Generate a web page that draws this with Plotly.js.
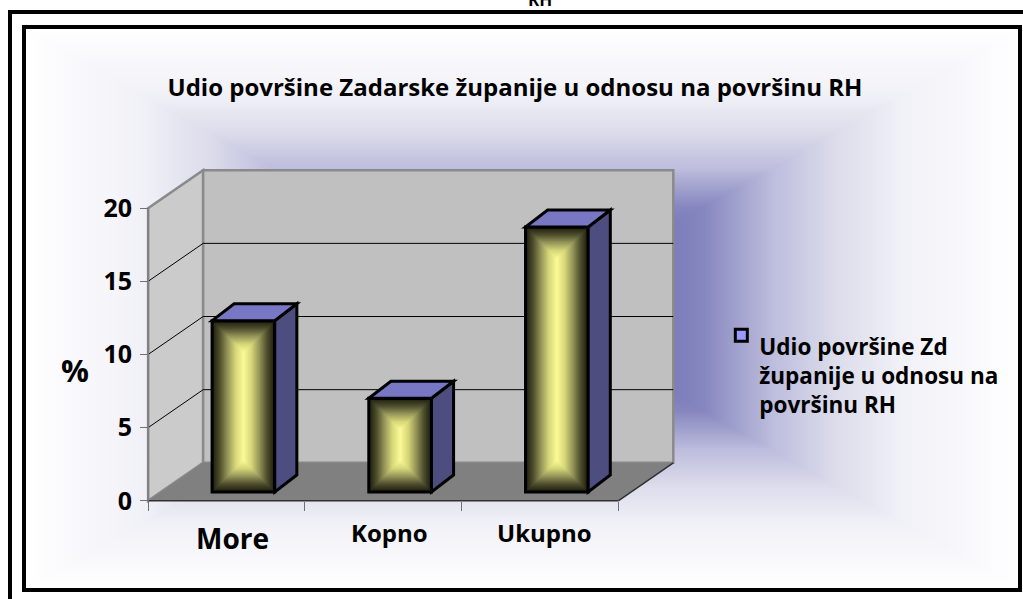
<!DOCTYPE html>
<html>
<head>
<meta charset="utf-8">
<script src="https://cdn.plot.ly/plotly-3.0.1.min.js"></script>
<style>
  html, body { margin: 0; padding: 0; width: 1023px; height: 599px; overflow: hidden; background: #ffffff; }
  #outer { position: absolute; left: 8px; top: 10px; width: 1100px; height: 700px; border-top: 4px solid #000; border-left: 4px solid #000; box-sizing: border-box; }
  #inner { position: absolute; left: 22px; top: 25px; width: 1000px; height: 567px; border: 4px solid #000; box-sizing: border-box; background-size: 100% 100%; }
  #plot { position: absolute; left: 0; top: 0; width: 1023px; height: 599px; }
</style>
</head>
<body>
<div id="outer"></div>
<div id="inner"></div>
<div id="plot"></div>
<script>
// ---- data ----
const categories = ['More', 'Kopno', 'Ukupno'];
const values = [11.7, 6.4, 18.1];
const seriesName = 'Udio površine Zd<br>županije u odnosu na<br>površinu RH';
const chartTitle = 'Udio površine Zadarske županije u odnosu na površinu RH';
const yTitle = '%';
const cutTitle = 'RH';
const yTicks = [0, 5, 10, 15, 20];

// ---- background (rectangular centre gradient) ----
(function () {
  const c = document.createElement('canvas');
  const w = 1000, h = 567;
  c.width = w; c.height = h;
  const ctx = c.getContext('2d');
  const img = ctx.createImageData(w, h);
  const stops = [[0, [82, 82, 160]], [0.36, [133, 133, 191]], [0.5, [188, 188, 221]],
                 [0.63, [220, 220, 235]], [0.76, [240, 240, 247]], [0.9, [249, 249, 252]], [1, [255, 255, 255]]];
  function col(t) {
    t = Math.min(1, Math.max(0, t));
    for (let i = 1; i < stops.length; i++) {
      if (t <= stops[i][0]) {
        const a = stops[i - 1], b = stops[i];
        const f = (t - a[0]) / (b[0] - a[0]);
        return [0, 1, 2].map(k => a[1][k] + (b[1][k] - a[1][k]) * f);
      }
    }
    return stops[stops.length - 1][1];
  }
  const cx = w / 2, cy = h / 2;
  for (let y = 0; y < h; y++) {
    for (let x = 0; x < w; x++) {
      const t = Math.max(Math.abs(x - cx) / cx, Math.abs(y - cy) / cy);
      const cc = col(t);
      const i = (y * w + x) * 4;
      img.data[i] = cc[0]; img.data[i + 1] = cc[1]; img.data[i + 2] = cc[2]; img.data[i + 3] = 255;
    }
  }
  ctx.putImageData(img, 0, 0);
  document.getElementById('inner').style.backgroundImage = 'url(' + c.toDataURL() + ')';
})();

// ---- geometry (pseudo-3D) ----
const PX_X = 156.67, PX_Y = 14.65;     // px per category / per unit
const X0_PX = 148, Y0_PX = 501;        // front-left-bottom corner in page px
const DX = 0.351, DY = 2.594;          // depth of the box (data units)
const BAR_SHIFT = 0.108, BAR_BASE = 0.61, BAR_W = 0.4;
const BDX = 0.141, BDY = 1.16;         // depth of bars
const XR = [-0.52, 2.5 + DX + 0.03];
const YR = [-0.15, 20 + DY + 0.15];
const W = (XR[1] - XR[0]) * PX_X;
const H = (YR[1] - YR[0]) * PX_Y;
const mL = X0_PX + (XR[0] + 0.5) * PX_X;
const mR = 1023 - mL - W;
const bottomPx = Y0_PX - YR[0] * PX_Y;
const mB = 599 - bottomPx;
const mT = bottomPx - H;
const paperX = px => (px - mL) / W;
const paperY = py => (bottomPx - py) / H;

const shapes = [];
const wallLine = { color: '#8a8a8a', width: 2.5 };
shapes.push({ type: 'path', layer: 'below', xref: 'x', yref: 'y',
  path: `M ${-0.5},0 L ${-0.5},20 L ${-0.5 + DX},${20 + DY} L ${-0.5 + DX},${DY} Z`,
  fillcolor: '#cbcbcb', line: wallLine });
shapes.push({ type: 'rect', layer: 'below', xref: 'x', yref: 'y',
  x0: -0.5 + DX, x1: 2.5 + DX, y0: DY, y1: 20 + DY, fillcolor: '#c0c0c0', line: wallLine });
shapes.push({ type: 'path', layer: 'below', xref: 'x', yref: 'y',
  path: `M ${-0.5},0 L 2.5,0 L ${2.5 + DX},${DY} L ${-0.5 + DX},${DY} Z`,
  fillcolor: '#808080', line: { width: 0 } });
yTicks.forEach(v => {
  if (v === 0 || v === 20) return;
  shapes.push({ type: 'line', layer: 'below', xref: 'x', yref: 'y',
    x0: -0.5 + DX, x1: 2.5 + DX, y0: v + DY, y1: v + DY, line: { color: '#000', width: 1 } });
  shapes.push({ type: 'line', layer: 'below', xref: 'x', yref: 'y',
    x0: -0.5, x1: -0.5 + DX, y0: v, y1: v + DY, line: { color: '#000', width: 1 } });
});
shapes.push({ type: 'line', layer: 'below', xref: 'x', yref: 'y',
  x0: -0.5, x1: 2.5, y0: 0, y1: 0, line: { color: '#303030', width: 1.5 } });
shapes.push({ type: 'line', layer: 'below', xref: 'x', yref: 'y',
  x0: 2.5, x1: 2.5 + DX, y0: 0, y1: DY, line: { color: '#303030', width: 1.5 } });
shapes.push({ type: 'line', layer: 'below', xref: 'x', yref: 'y',
  x0: -0.5, x1: -0.5, y0: 0, y1: 20, line: { color: '#808080', width: 2 } });

values.forEach((v, i) => {
  const x0 = i + BAR_SHIFT - BAR_W / 2, x1 = i + BAR_SHIFT + BAR_W / 2;
  const b = BAR_BASE, t = BAR_BASE + v;
  shapes.push({ type: 'path', layer: 'above', xref: 'x', yref: 'y',
    path: `M ${x1},${b} L ${x1},${t} L ${x1 + BDX},${t + BDY} L ${x1 + BDX},${b + BDY} Z`,
    fillcolor: '#4d4d80', line: { color: '#000', width: 3 } });
  shapes.push({ type: 'path', layer: 'above', xref: 'x', yref: 'y',
    path: `M ${x0},${t} L ${x1},${t} L ${x1 + BDX},${t + BDY} L ${x0 + BDX},${t + BDY} Z`,
    fillcolor: '#7777c4', line: { color: '#000', width: 3 } });
});

const FONT = 'Open Sans, Noto Sans, Liberation Sans, sans-serif';
const annotations = [
  { text: yTitle, xref: 'paper', yref: 'paper', x: paperX(75), y: paperY(370), showarrow: false,
    font: { family: FONT, size: 31, color: '#000', weight: 'bold' }, xanchor: 'center', yanchor: 'middle' },
  { text: cutTitle, xref: 'paper', yref: 'paper', x: paperX(540), y: paperY(-1), showarrow: false,
    font: { family: FONT, size: 17, color: '#000', weight: 'bold' }, xanchor: 'center', yanchor: 'middle' }
];
const labelPos = [[232, 538, 28], [389, 533, 24], [544, 533, 24]];
categories.forEach((c, i) => {
  annotations.push({ text: c, xref: 'paper', yref: 'paper', x: paperX(labelPos[i][0]), y: paperY(labelPos[i][1]),
    showarrow: false, xanchor: 'center', yanchor: 'middle',
    font: { family: FONT, size: labelPos[i][2], color: '#000', weight: 'bold' } });
});

const trace = {
  type: 'bar', x: categories, y: values, base: BAR_BASE, width: BAR_W,
  offset: BAR_SHIFT - BAR_W / 2, name: seriesName, showlegend: true,
  marker: { color: '#9999ff', line: { color: '#000', width: 3 } },
  hoverinfo: 'x+y'
};

const layout = {
  width: 1023, height: 599,
  margin: { l: mL, r: mR, t: mT, b: mB, pad: 0 },
  paper_bgcolor: 'rgba(0,0,0,0)', plot_bgcolor: 'rgba(0,0,0,0)',
  title: { text: chartTitle, xref: 'container', yref: 'container', x: 515 / 1023, y: 1 - 88 / 599,
    xanchor: 'center', yanchor: 'middle', font: { family: FONT, size: 24, color: '#000', weight: 'bold' } },
  xaxis: { type: 'category', range: XR, anchor: 'free', position: paperY(501),
    showticklabels: false, ticks: 'outside', tickson: 'boundaries', ticklen: 9, tickwidth: 1,
    tickcolor: '#707070', showgrid: false, zeroline: false, showline: false, fixedrange: true },
  yaxis: { range: YR, anchor: 'free', position: paperX(148), tick0: 0, dtick: 5,
    ticks: 'outside', ticklen: 8, tickwidth: 1, tickcolor: '#707070', ticklabelstandoff: 3,
    tickfont: { family: FONT, size: 25, color: '#000', weight: 'bold' },
    showgrid: false, zeroline: false, showline: false, fixedrange: true },
  showlegend: true,
  legend: { x: paperX(719), y: paperY(325), xanchor: 'left', yanchor: 'top', valign: 'top',
    bgcolor: 'rgba(0,0,0,0)', borderwidth: 0, itemwidth: 30,
    font: { family: FONT, size: 22.5, color: '#000', weight: 'bold' } },
  shapes: shapes,
  annotations: annotations
};

function barColor(d) {
  const st = [[0, [26, 26, 14]], [0.25, [78, 78, 46]], [0.5, [150, 150, 90]], [0.75, [215, 215, 122]], [1, [250, 250, 150]]];
  d = Math.min(1, Math.max(0, d));
  for (let i = 1; i < st.length; i++) {
    if (d <= st[i][0]) {
      const a = st[i - 1], b = st[i], f = (d - a[0]) / (b[0] - a[0]);
      return [0, 1, 2].map(k => Math.round(a[1][k] + (b[1][k] - a[1][k]) * f));
    }
  }
  return st[st.length - 1][1];
}

Plotly.newPlot('plot', [trace], layout, { displayModeBar: false, staticPlot: true }).then(gd => {
  const svg = gd.querySelector('.main-svg');
  const NS = 'http://www.w3.org/2000/svg';
  let defs = svg.querySelector('defs');
  if (!defs) { defs = document.createElementNS(NS, 'defs'); svg.insertBefore(defs, svg.firstChild); }
  gd.querySelectorAll('.barlayer .point path').forEach((p, idx) => {
    const bb = p.getBBox();
    const w = Math.max(1, Math.round(bb.width)), h = Math.max(1, Math.round(bb.height));
    const c = document.createElement('canvas');
    c.width = w; c.height = h;
    const ctx = c.getContext('2d');
    const img = ctx.createImageData(w, h);
    const half = w / 2;
    for (let y = 0; y < h; y++) {
      for (let x = 0; x < w; x++) {
        const inset = Math.min(x + 0.5, w - x - 0.5, y + 0.5, h - y - 0.5);
        const cc = barColor(inset / half);
        const i = (y * w + x) * 4;
        img.data[i] = cc[0]; img.data[i + 1] = cc[1]; img.data[i + 2] = cc[2]; img.data[i + 3] = 255;
      }
    }
    ctx.putImageData(img, 0, 0);
    const pat = document.createElementNS(NS, 'pattern');
    pat.setAttribute('id', 'barPat' + idx);
    pat.setAttribute('patternUnits', 'userSpaceOnUse');
    pat.setAttribute('x', bb.x); pat.setAttribute('y', bb.y);
    pat.setAttribute('width', bb.width); pat.setAttribute('height', bb.height);
    const im = document.createElementNS(NS, 'image');
    im.setAttribute('x', 0); im.setAttribute('y', 0);
    im.setAttribute('width', bb.width); im.setAttribute('height', bb.height);
    im.setAttribute('preserveAspectRatio', 'none');
    im.setAttribute('href', c.toDataURL());
    pat.appendChild(im);
    defs.appendChild(pat);
    p.style.fill = 'url(#barPat' + idx + ')';
  });
  // nudge the legend swatch to sit slightly above the first text line, as in the reference
  gd.querySelectorAll('.legend .legendsymbols').forEach(s => {
    const tr = s.getAttribute('transform') || '';
    s.setAttribute('transform', tr + ' translate(2,-11)');
  });
});
</script>
</body>
</html>
